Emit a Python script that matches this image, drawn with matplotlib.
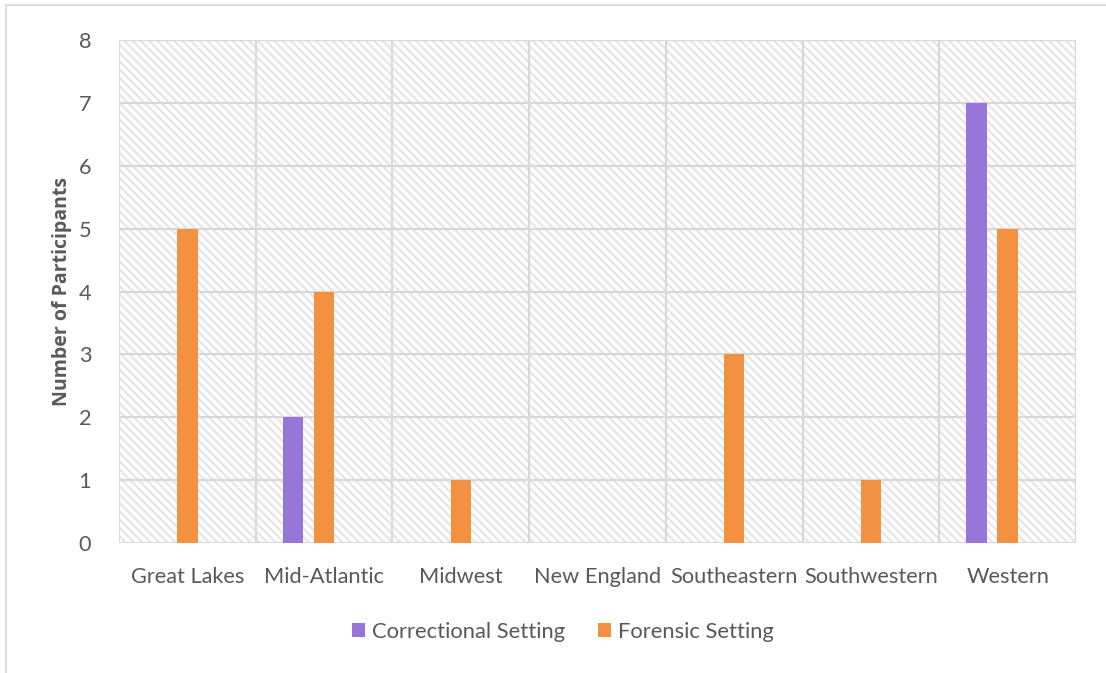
import numpy as np
import matplotlib
matplotlib.use('Agg')
import matplotlib.pyplot as plt
from matplotlib.patches import Rectangle, Patch
from matplotlib.lines import Line2D

# Données
regions = ['Great Lakes', 'Mid-Atlantic', 'Midwest', 'New England',
           'Southeastern', 'Southwestern', 'Western']
correctional = [0, 2, 0, 0, 0, 0, 7]
forensic = [5, 4, 1, 0, 3, 1, 5]
yticks = [0, 1, 2, 3, 4, 5, 6, 7, 8]

purple = '#9677d9'
orange = '#f2913f'
grid_col = '#d9d9d9'
text_col = '#595959'

plt.rcParams['font.family'] = ['Lato', 'DejaVu Sans']
plt.rcParams['hatch.linewidth'] = 1.6
plt.rcParams['hatch.color'] = '#e6e6e6'

fig = plt.figure(figsize=(11.06, 6.73), dpi=100)
ax = fig.add_axes([119 / 1106, 1 - 543 / 673, (1076 - 119) / 1106, (543 - 40) / 673])

# fond hachuré
bg = Rectangle((0, 0), 1, 1, transform=ax.transAxes, facecolor='white',
               edgecolor='#e6e6e6', hatch='\\\\\\\\', linewidth=0, zorder=0)
ax.add_patch(bg)

x = np.arange(len(regions))
bw = 0.15
ax.bar(x - 0.226, correctional, width=bw, color=purple, zorder=3)
ax.bar(x, forensic, width=bw, color=orange, zorder=3)

ax.set_xlim(-0.5, len(regions) - 0.5)
ax.set_ylim(0, 8)

# grille
for y in yticks:
    ax.axhline(y, color=grid_col, lw=1.6, zorder=1)
for b in np.arange(-0.5, len(regions), 1.0):
    ax.axvline(b, color=grid_col, lw=1.6, zorder=1)

for s in ax.spines.values():
    s.set_visible(False)

ax.set_xticks(x)
ax.set_xticklabels(regions, fontsize=15.7, color=text_col)
ax.set_yticks(yticks)
ax.set_yticklabels([str(v) for v in yticks], fontsize=15.7, color=text_col)
ax.tick_params(length=0)
ax.tick_params(axis='y', pad=20)
ax.tick_params(axis='x', pad=17)
ax.set_ylabel('Number of Participants', fontsize=14, fontweight='bold',
              family=['Open Sans', 'DejaVu Sans'], color=text_col)
ax.yaxis.set_label_coords(-47 / 957, 0.5)

handles = [Patch(facecolor=purple, label='Correctional Setting'),
           Patch(facecolor=orange, label='Forensic Setting')]
fig.legend(handles=handles, loc='center', bbox_to_anchor=(563 / 1106, 1 - 632 / 673),
           ncol=2, frameon=False, fontsize=15.8, labelcolor=text_col,
           handlelength=0.6, handleheight=0.6, handletextpad=0.3, columnspacing=1.5)

# bordure du graphique
fig.add_artist(Line2D([6 / 1106, 1], [1 - 5 / 673, 1 - 5 / 673], color=grid_col, lw=1.2))
fig.add_artist(Line2D([6 / 1106, 6 / 1106], [0, 1 - 5 / 673], color=grid_col, lw=1.2))

fig.savefig('out.png', dpi=100)
